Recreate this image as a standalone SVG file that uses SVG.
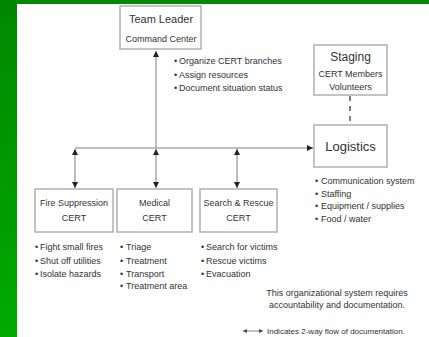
<svg xmlns="http://www.w3.org/2000/svg" width="429" height="337" viewBox="0 0 429 337">
<defs>
<linearGradient id="grn" x1="0" y1="0" x2="0" y2="1">
<stop offset="0" stop-color="#008800"/>
<stop offset="1" stop-color="#00aa00"/>
</linearGradient>
<marker id="arr" viewBox="0 0 10 10" refX="10" refY="5" markerWidth="7" markerHeight="6" orient="auto-start-reverse" markerUnits="userSpaceOnUse">
<path d="M0,0 L10,5 L0,10 z" fill="#222"/>
</marker>
<marker id="arrs" viewBox="0 0 10 10" refX="10" refY="5" markerWidth="5" markerHeight="4" orient="auto-start-reverse" markerUnits="userSpaceOnUse">
<path d="M0,0 L10,5 L0,10 z" fill="#444"/>
</marker>
</defs>
<style>
.box{fill:#fff;stroke:#b0b0b0;stroke-width:1.5}
.t{font-family:"Liberation Sans",Arial,sans-serif;fill:#333}
.c{text-anchor:middle}
.s9{font-size:9px}
.s8{font-size:8.5px}
.big{font-size:11px}
.ln{stroke:#a8a8a8;stroke-width:1.5;fill:none}
.two{marker-start:url(#arr);marker-end:url(#arr)}
</style>
<rect x="0" y="0" width="429" height="337" fill="#fefefe"/>
<rect x="0" y="0" width="17" height="337" fill="url(#grn)"/>
<rect x="0" y="0" width="429" height="4" fill="#008800"/>

<g id="connectors">
<line class="ln" x1="156" y1="51" x2="156" y2="148" marker-start="url(#arr)"/>
<line class="ln" x1="75" y1="148" x2="313" y2="148" marker-end="url(#arr)"/>
<line class="ln two" x1="75" y1="149" x2="75" y2="188"/>
<line class="ln two" x1="156" y1="149" x2="156" y2="188"/>
<line class="ln two" x1="237" y1="149" x2="237" y2="188"/>
<line x1="350" y1="96" x2="350" y2="125" stroke="#555" stroke-width="1.5" stroke-dasharray="5,5"/>
</g>

<g id="team-leader">
<rect class="box" x="120" y="6" width="81" height="43"/>
<text class="t c" x="161" y="23" font-size="11">Team Leader</text>
<text class="t c s9" x="161" y="42">Command Center</text>
<text class="t s9" x="174" y="64">•<tspan x="179">Organize CERT branches</tspan></text>
<text class="t s9" x="174" y="78">•<tspan x="179">Assign resources</tspan></text>
<text class="t s9" x="174" y="91">•<tspan x="179">Document situation status</tspan></text>
</g>

<g id="staging">
<rect class="box" x="314" y="45" width="73" height="50"/>
<text class="t c" x="350.5" y="61" font-size="12">Staging</text>
<text class="t c s9" x="350.5" y="77">CERT Members</text>
<text class="t c s9" x="350.5" y="90">Volunteers</text>
</g>

<g id="logistics">
<rect class="box" x="314" y="125" width="73" height="42"/>
<text class="t c" x="350.5" y="151" font-size="13">Logistics</text>
<text class="t s9" x="315" y="184">•<tspan x="321">Communication system</tspan></text>
<text class="t s9" x="315" y="197">•<tspan x="321">Staffing</tspan></text>
<text class="t s9" x="315" y="209">•<tspan x="321">Equipment / supplies</tspan></text>
<text class="t s9" x="315" y="222">•<tspan x="321">Food / water</tspan></text>
</g>

<g id="fire-suppression">
<rect class="box" x="35" y="189" width="78" height="43"/>
<text class="t c s9" x="74" y="206">Fire Suppression</text>
<text class="t c s9" x="74" y="221">CERT</text>
<text class="t s9" x="35" y="250">•<tspan x="40">Fight small fires</tspan></text>
<text class="t s9" x="35" y="264">•<tspan x="40">Shut off utilities</tspan></text>
<text class="t s9" x="35" y="277">•<tspan x="40">Isolate hazards</tspan></text>
</g>

<g id="medical">
<rect class="box" x="117" y="189" width="75" height="43"/>
<text class="t c s9" x="154.5" y="206">Medical</text>
<text class="t c s9" x="154.5" y="221">CERT</text>
<text class="t s9" x="120" y="250">•<tspan x="126">Triage</tspan></text>
<text class="t s9" x="120" y="264">•<tspan x="126">Treatment</tspan></text>
<text class="t s9" x="120" y="277">•<tspan x="126">Transport</tspan></text>
<text class="t s9" x="120" y="289">•<tspan x="126">Treatment area</tspan></text>
</g>

<g id="search-rescue">
<rect class="box" x="200" y="189" width="77" height="43"/>
<text class="t c s9" x="238.5" y="206">Search &amp; Rescue</text>
<text class="t c s9" x="238.5" y="221">CERT</text>
<text class="t s9" x="201" y="250">•<tspan x="206">Search for victims</tspan></text>
<text class="t s9" x="201" y="264">•<tspan x="206">Rescue victims</tspan></text>
<text class="t s9" x="201" y="277">•<tspan x="206">Evacuation</tspan></text>
</g>

<g id="note">
<text class="t c s9" x="337" y="296">This organizational system requires</text>
<text class="t c s9" x="337" y="308">accountability and documentation.</text>
</g>

<g id="legend">
<line x1="243" y1="331" x2="263" y2="331" stroke="#888" stroke-width="1" marker-start="url(#arrs)" marker-end="url(#arrs)"/>
<text class="t" x="267" y="334" font-size="8">Indicates 2-way flow of documentation.</text>
</g>
</svg>
